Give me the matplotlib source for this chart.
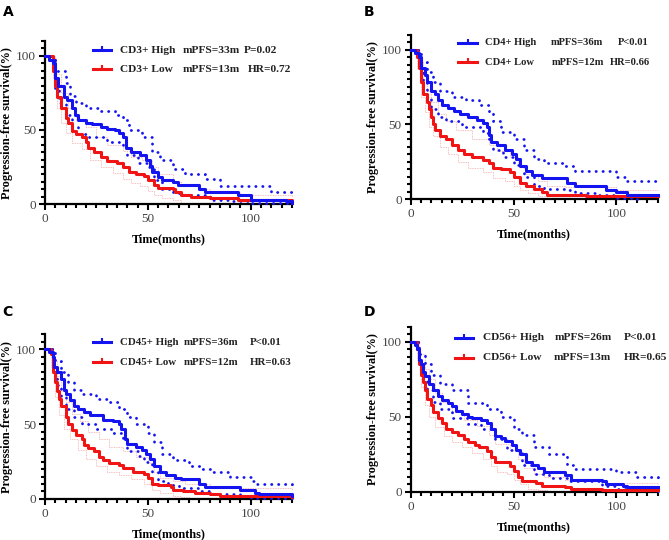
import matplotlib
matplotlib.use('Agg')
from matplotlib import pyplot as plt
from matplotlib.ticker import MultipleLocator

plt.rcParams['font.family'] = ['Liberation Serif', 'DejaVu Serif']

BLUE = '#1414f0'
RED = '#f01414'
PINK = '#f6a8a8'

# ---- panel A : CD3 ----
a_hi_t = [0, 2, 4, 5, 6.5, 9, 10.5, 13, 14.5, 16, 20, 23, 27, 30, 34, 36, 38, 39.5, 42, 46, 49, 51, 52, 55, 57, 62, 64.5, 75, 78, 94, 100, 117, 120]
a_hi_s = [100, 97, 95, 85, 80, 72, 70, 65, 60, 57, 55, 54, 52, 51, 50, 48, 45, 38, 35, 33, 30, 26, 22, 18, 16, 15, 13, 10, 8, 6, 3, 2, 1]
a_lo_t = [0, 4, 5, 6, 8, 10, 11, 13, 15, 18, 20, 21, 24, 27, 30, 35, 38, 41, 44, 48, 50, 53, 55, 62, 63, 66, 71, 80, 94, 120]
a_lo_s = [100, 90, 80, 72, 65, 58, 55, 49, 47, 45, 42, 38, 35, 32, 29, 28, 25, 22, 20, 19, 16, 13, 11, 10, 8, 6, 5, 4, 3, 2]
a_hi_up_t = [0, 5, 10, 12, 15, 20, 27, 34, 38, 41, 47, 52, 56, 62, 68, 78, 85, 110, 120]
a_hi_up_s = [100, 90, 82, 73, 68, 65, 63, 60, 57, 50, 45, 35, 30, 24, 20, 17, 12, 8, 8]
a_hi_lo_t = [0, 5, 7, 10, 13, 16, 20, 30, 38, 40, 45, 50, 53, 57, 62, 65, 80, 90, 100, 120]
a_hi_lo_s = [100, 78, 68, 60, 52, 47, 45, 42, 40, 33, 28, 25, 16, 10, 8, 6, 3, 2, 0.5, 0]
a_lo_up_t = [0, 5, 8, 11, 15, 20, 25, 30, 38, 42, 47, 52, 55, 62, 66, 75, 80, 95, 120]
a_lo_up_s = [100, 88, 75, 65, 57, 52, 45, 40, 36, 32, 30, 25, 20, 15, 12, 10, 8, 6, 5]
a_lo_lo_t = [0, 4, 6, 8, 10, 13, 18, 22, 27, 33, 38, 42, 46, 50, 53, 57, 62, 66, 70]
a_lo_lo_s = [100, 85, 65, 55, 48, 41, 37, 30, 25, 21, 17, 14, 12, 9, 6, 4, 3, 1, 0]

# ---- panel B : CD4 ----
b_hi_t = [0, 2, 4, 5, 7, 8, 10, 12, 13, 15, 18, 21, 24, 28, 32, 35, 37, 38, 39, 42, 46, 49, 51, 53, 56, 59, 64, 76, 80, 95, 100, 105, 120]
b_hi_s = [100, 98, 95, 88, 83, 78, 72, 70, 66, 63, 61, 59, 57, 55, 53, 51, 48, 43, 38, 36, 33, 30, 27, 22, 19, 16, 14, 11, 9, 6, 5, 3, 3]
b_lo_t = [0, 3, 4, 5, 6, 8, 9, 10, 11, 12, 14, 17, 20, 23, 26, 30, 35, 38, 40, 44, 48, 50, 53, 56, 60, 64, 66, 85, 120]
b_lo_s = [100, 95, 88, 78, 70, 65, 60, 55, 50, 46, 42, 40, 36, 33, 30, 28, 26, 24, 21, 20, 18, 15, 11, 9, 7, 5, 3, 2, 2]
b_hi_up_t = [0, 5, 8, 11, 14, 20, 27, 33, 38, 40, 44, 50, 55, 60, 65, 75, 80, 95, 100, 105, 120]
b_hi_up_s = [100, 92, 85, 78, 72, 68, 66, 63, 58, 52, 45, 40, 33, 27, 24, 22, 19, 19, 15, 12, 10]
b_hi_lo_t = [0, 4, 6, 8, 10, 13, 17, 25, 35, 38, 40, 45, 50, 55, 60, 65, 75, 80, 90, 100, 110]
b_hi_lo_s = [100, 88, 78, 68, 60, 55, 52, 48, 44, 38, 33, 28, 23, 15, 9, 7, 6, 4, 3, 1, 0]
b_lo_up_t = [0, 4, 6, 8, 10, 13, 17, 22, 30, 38, 42, 48, 52, 56, 62, 66, 75, 100, 120]
b_lo_up_s = [100, 92, 80, 72, 65, 57, 52, 46, 40, 36, 32, 28, 22, 17, 12, 9, 8, 6, 6]
b_lo_lo_t = [0, 3, 5, 7, 9, 11, 14, 18, 23, 28, 35, 40, 46, 50, 53, 57, 62, 66]
b_lo_lo_s = [100, 88, 68, 58, 48, 42, 35, 30, 25, 21, 18, 14, 12, 9, 6, 4, 2, 0]

# ---- panel C : CD45 ----
c_hi_t = [0, 2, 4, 4.5, 6, 8, 9, 10, 12, 14, 16, 19, 22, 28, 33, 36, 37, 39, 40, 44, 47, 49, 51, 53, 56, 59, 63, 66, 75, 78, 95, 102, 104, 120]
c_hi_s = [100, 98, 95, 88, 85, 80, 73, 70, 66, 62, 60, 58, 56, 53, 52, 50, 47, 40, 37, 35, 33, 30, 27, 22, 18, 16, 14, 13, 10, 8, 6, 4, 3, 2]
c_lo_t = [0, 3, 4, 5, 6, 7, 8, 10, 11, 13, 15, 18, 19, 21, 24, 26, 28, 31, 36, 38, 43, 48, 50, 52, 55, 61, 62, 67, 73, 80, 85, 120]
c_lo_s = [100, 97, 85, 78, 72, 67, 62, 55, 50, 46, 43, 40, 36, 34, 32, 28, 26, 24, 23, 21, 18, 17, 14, 10, 9, 8, 6, 5, 4, 3, 2, 1]
c_hi_up_t = [0, 5, 8, 11, 14, 18, 25, 30, 36, 40, 44, 50, 53, 57, 62, 70, 76, 80, 90, 100, 103, 120]
c_hi_up_s = [100, 92, 85, 78, 73, 70, 67, 65, 60, 55, 50, 44, 38, 30, 26, 22, 20, 18, 15, 12, 10, 8]
c_hi_lo_t = [0, 4, 6, 8, 10, 14, 18, 25, 33, 38, 40, 45, 48, 52, 55, 60, 65, 75, 80, 95, 100, 120]
c_hi_lo_s = [100, 85, 76, 68, 60, 55, 50, 47, 44, 40, 32, 29, 25, 18, 12, 9, 7, 5, 3, 2, 0.5, 0]
c_lo_up_t = [0, 4, 6, 8, 10, 13, 17, 21, 26, 31, 38, 44, 50, 53, 56, 62, 68, 80, 95, 120]
c_lo_up_s = [100, 92, 82, 72, 65, 57, 52, 45, 40, 35, 32, 28, 24, 18, 14, 12, 10, 8, 7, 6]
c_lo_lo_t = [0, 3, 5, 7, 9, 12, 16, 20, 25, 30, 36, 42, 48, 52, 56, 62, 66, 70]
c_lo_lo_s = [100, 88, 68, 56, 47, 40, 33, 27, 22, 18, 16, 13, 10, 6, 4, 2, 1, 0]

# ---- panel D : CD56 ----
d_hi_t = [0, 2, 3, 4, 5, 6, 7, 9, 11, 13, 15, 18, 20, 22, 25, 28, 30, 34, 37, 39, 41, 44, 46, 49, 51, 53, 56, 59, 62, 65, 75, 78, 93, 95, 103, 105, 120]
d_hi_s = [100, 98, 95, 88, 85, 80, 77, 72, 68, 64, 61, 59, 57, 54, 52, 50, 49, 48, 46, 42, 37, 36, 34, 31, 28, 25, 20, 18, 16, 13, 11, 8, 7, 5, 4, 3, 3]
d_lo_t = [0, 3, 4, 5, 6, 7, 8, 10, 11, 13, 15, 17, 20, 23, 26, 28, 31, 33, 37, 39, 41, 48, 50, 52, 54, 61, 64, 75, 78, 93, 120]
d_lo_s = [100, 95, 85, 78, 73, 68, 62, 58, 53, 49, 46, 42, 40, 38, 35, 33, 31, 30, 27, 23, 20, 17, 14, 10, 7, 6, 4, 3, 2, 1, 1]
d_hi_up_t = [0, 4, 7, 10, 14, 20, 28, 37, 44, 50, 54, 60, 67, 76, 80, 100, 110, 120]
d_hi_up_s = [100, 92, 85, 78, 72, 68, 59, 55, 50, 42, 38, 30, 25, 18, 15, 13, 10, 8]
d_hi_lo_t = [0, 4, 6, 8, 11, 14, 20, 28, 34, 41, 47, 54, 60, 67, 76, 93, 100, 109, 120]
d_hi_lo_s = [100, 85, 75, 68, 60, 55, 49, 45, 42, 35, 28, 18, 12, 9, 7, 4, 2, 1, 0]
d_lo_up_t = [0, 4, 7, 9, 12, 15, 20, 26, 32, 38, 41, 48, 52, 55, 60, 65, 75, 95, 120]
d_lo_up_s = [100, 92, 82, 75, 66, 60, 53, 48, 44, 38, 32, 28, 22, 16, 12, 10, 8, 6, 5]
d_lo_lo_t = [0, 3, 5, 7, 9, 12, 16, 20, 25, 30, 35, 39, 42, 47, 50, 53, 57, 62, 66]
d_lo_lo_s = [100, 88, 70, 58, 50, 43, 37, 33, 30, 26, 22, 17, 13, 12, 8, 5, 2, 1, 0]

panels = [
    dict(tag='A', rect=[0.0673, 0.622, 0.369, 0.302], fs=8.2,
         hi=(a_hi_t, a_hi_s), lo=(a_lo_t, a_lo_s),
         hi_ci=((a_hi_up_t, a_hi_up_s), (a_hi_lo_t, a_hi_lo_s)),
         lo_ci=((a_lo_up_t, a_lo_up_s), (a_lo_lo_t, a_lo_lo_s)),
         rows=[['CD3+ High', 'mPFS=33m', 'P=0.02'], ['CD3+ Low', 'mPFS=13m', 'HR=0.72']],
         cols=[[0.302, 0.558, 0.806], [0.302, 0.558, 0.820]], ys=[0.945, 0.827],
         line=(0.195, 0.269)),
    dict(tag='B', rect=[0.614, 0.631, 0.369, 0.305], fs=7.6,
         hi=(b_hi_t, b_hi_s), lo=(b_lo_t, b_lo_s),
         hi_ci=((b_hi_up_t, b_hi_up_s), (b_hi_lo_t, b_hi_lo_s)),
         lo_ci=((b_lo_up_t, b_lo_up_s), (b_lo_lo_t, b_lo_lo_s)),
         rows=[['CD4+ High', 'mPFS=36m', 'P<0.01'], ['CD4+ Low', 'mPFS=12m', 'HR=0.66']],
         cols=[[0.301, 0.566, 0.837], [0.301, 0.573, 0.805]], ys=[0.949, 0.832],
         line=(0.193, 0.267)),
    dict(tag='C', rect=[0.0673, 0.076, 0.369, 0.305], fs=7.8,
         hi=(c_hi_t, c_hi_s), lo=(c_lo_t, c_lo_s),
         hi_ci=((c_hi_up_t, c_hi_up_s), (c_hi_lo_t, c_hi_lo_s)),
         lo_ci=((c_lo_up_t, c_lo_up_s), (c_lo_lo_t, c_lo_lo_s)),
         rows=[['CD45+ High', 'mPFS=36m', 'P<0.01'], ['CD45+ Low', 'mPFS=12m', 'HR=0.63']],
         cols=[[0.305, 0.560, 0.829], [0.305, 0.560, 0.829]], ys=[0.952, 0.831],
         line=(0.195, 0.269)),
    dict(tag='D', rect=[0.614, 0.089, 0.369, 0.306], fs=8.2,
         hi=(d_hi_t, d_hi_s), lo=(d_lo_t, d_lo_s),
         hi_ci=((d_hi_up_t, d_hi_up_s), (d_hi_lo_t, d_hi_lo_s)),
         lo_ci=((d_lo_up_t, d_lo_up_s), (d_lo_lo_t, d_lo_lo_s)),
         rows=[['CD56+ High', 'mPFS=26m', 'P<0.01'], ['CD56+ Low', 'mPFS=13m', 'HR=0.65']],
         cols=[[0.292, 0.582, 0.865], [0.292, 0.577, 0.865]], ys=[0.933, 0.812],
         line=(0.181, 0.252)),
]

tag_pos = {'A': (0.004, 0.99), 'B': (0.543, 0.99), 'C': (0.004, 0.435), 'D': (0.543, 0.435)}

fig = plt.figure(figsize=(6.69, 5.40), dpi=100)

for p in panels:
    ax = fig.add_axes(p['rect'])

    # confidence bands
    for t, s in p['lo_ci']:
        ax.step(t, s, where='post', color=PINK, lw=0.6, ls=(0, (1, 1)), clip_on=False, zorder=2)
    for t, s in p['hi_ci']:
        ax.step(t, s, where='post', color=BLUE, lw=2.0, ls=(0, (0.1, 2.4)),
                dash_capstyle='round', clip_on=False, zorder=3)

    # survival curves
    ax.step(p['lo'][0], p['lo'][1], where='post', color=RED, lw=2.2, clip_on=False, zorder=4)
    ax.step(p['hi'][0], p['hi'][1], where='post', color=BLUE, lw=2.2, clip_on=False, zorder=5)

    ax.set_xlim(0, 120)
    ax.set_ylim(0, 110)
    ax.xaxis.set_major_locator(MultipleLocator(50))
    ax.xaxis.set_minor_locator(MultipleLocator(5))
    ax.yaxis.set_minor_locator(MultipleLocator(5))
    ax.set_yticks([0, 50, 100])
    ax.spines['top'].set_visible(False)
    ax.spines['right'].set_visible(False)
    ax.spines['left'].set_linewidth(1.6)
    ax.spines['bottom'].set_linewidth(1.6)
    ax.tick_params(which='major', direction='out', length=4.5, width=1.5, labelsize=9.5,
                   labelcolor='#444444', pad=2)
    ax.tick_params(which='minor', direction='out', length=3, width=1.5)

    ax.set_xlabel('Time(months)', fontsize=8.8, fontweight='bold', labelpad=6)
    ax.set_ylabel('Progression-free survival(%)', fontsize=8.8, fontweight='bold', labelpad=2)

    # legend drawn as aligned columns
    for i, (row, xs, y) in enumerate(zip(p['rows'], p['cols'], p['ys'])):
        c = BLUE if i == 0 else RED
        x0, x1 = p['line']
        ax.plot([x0, x1], [y, y], transform=ax.transAxes, color=c, lw=2.2, clip_on=False)
        ax.plot([(x0 + x1) / 2], [y + 0.012], transform=ax.transAxes, color=c, marker='|',
                ms=3, mew=1.5, clip_on=False)
        for txt, x in zip(row, xs):
            ax.text(x, y, txt, transform=ax.transAxes, fontsize=p['fs'], fontweight='bold',
                    va='center', ha='left', color='#222222')

    fig.text(tag_pos[p['tag']][0], tag_pos[p['tag']][1], p['tag'], fontsize=10,
             fontweight='bold', family='DejaVu Sans', va='top', ha='left')

fig.savefig('out.png', dpi=100)
